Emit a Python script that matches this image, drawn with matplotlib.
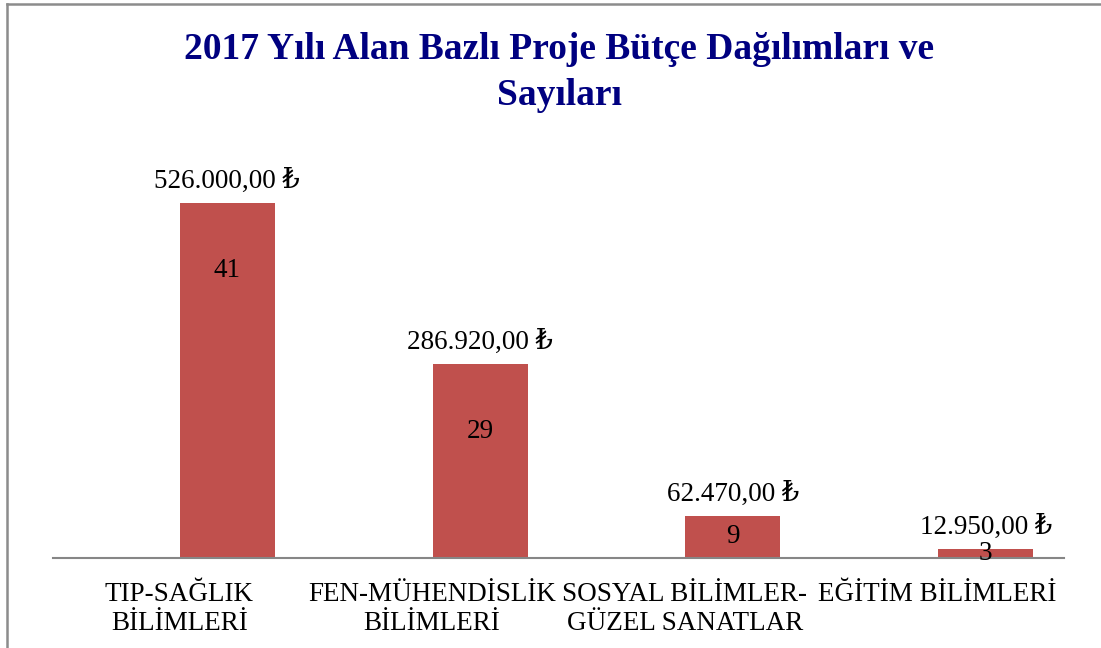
import matplotlib.pyplot as plt
from matplotlib.lines import Line2D

plt.rcParams['font.family'] = ['Liberation Serif', 'DejaVu Serif']

categories = ['TIP-SAĞLIK\nBİLİMLERİ', 'FEN-MÜHENDİSLİK\nBİLİMLERİ',
              'SOSYAL BİLİMLER-\nGÜZEL SANATLAR', 'EĞİTİM BİLİMLERİ']
budgets = [526000.00, 286920.00, 62470.00, 12950.00]
counts = [41, 29, 9, 3]
title = '2017 Yılı Alan Bazlı Proje Bütçe Dağılımları ve\nSayıları'

bar_color = '#C0504D'
axis_color = '#868686'


def tr_money(v):
    s = '{:,.2f}'.format(v)
    s = s.replace(',', 'X').replace('.', ',').replace('X', '.')
    return s + ' ₺'


fig = plt.figure(figsize=(11.01, 6.48), dpi=100)
ax = fig.add_axes([0.0481, 0.1389, 0.9183, 0.625])

x = list(range(len(categories)))
shift = 0.19  # bar sits right of slot centre (clustered with a hidden series)
bar_x = [i + shift for i in x]
ax.bar(bar_x, budgets, width=0.376, color=bar_color, zorder=2)

ax.set_xlim(-0.5, len(categories) - 0.5)
ax.set_ylim(0, 600000)

for sp in ['top', 'right', 'left']:
    ax.spines[sp].set_visible(False)
ax.spines['bottom'].set_color(axis_color)
ax.spines['bottom'].set_linewidth(1.5)
ax.set_yticks([])
ax.set_xticks(x)
ax.set_xticklabels(categories, fontsize=19.5, linespacing=1.22)
ax.tick_params(axis='x', length=0, pad=17)

# value labels above bars
for bx, v in zip(bar_x, budgets):
    ax.annotate(tr_money(v), (bx, v), xytext=(0, 11), textcoords='offset points',
                ha='center', va='baseline', fontsize=19.5)

# count labels inside bars
inner = 100000
for bx, v, c in zip(bar_x, budgets, counts):
    y = v - min(inner, v / 2)
    ax.text(bx, y, str(c), ha='center', va='center', fontsize=19.5, zorder=3)

fig.text(0.508, 0.950, title, ha='center', va='top', fontsize=27,
         fontweight='bold', color='#000080', linespacing=1.4)

# chart frame (left and top edges visible)
fig.add_artist(Line2D([7 / 1101, 7 / 1101], [0, 1 - 4 / 648],
                      transform=fig.transFigure, color='#8C8C8C', lw=1.8))
fig.add_artist(Line2D([7 / 1101, 1], [1 - 4 / 648, 1 - 4 / 648],
                      transform=fig.transFigure, color='#8C8C8C', lw=1.8))

fig.savefig('out.png', dpi=100)
